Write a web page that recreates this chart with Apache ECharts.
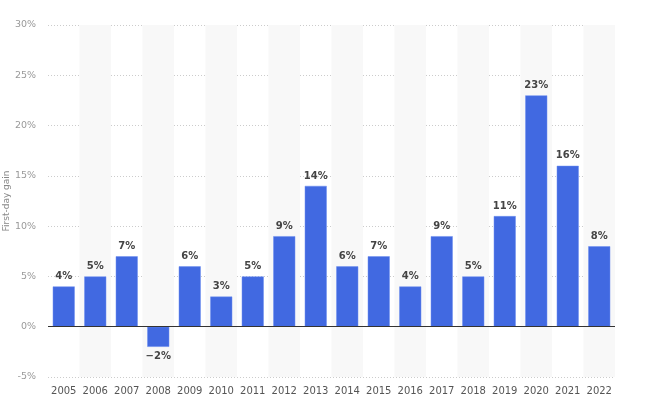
<!DOCTYPE html>
<html><head><meta charset="utf-8">
<script src="https://cdn.jsdelivr.net/npm/echarts@6/dist/echarts.min.js"></script>
<style>html,body{margin:0;padding:0;background:#fff}#c{width:652px;height:403px}</style>
</head><body><div id="c"></div>
<script>
const years = ['2005','2006','2007','2008','2009','2010','2011','2012','2013','2014','2015','2016','2017','2018','2019','2020','2021','2022'];
const gains = [4,5,7,-2,6,3,5,9,14,6,7,4,9,5,11,23,16,8];
const yTicks = {min:-5, max:30, interval:5};

const fmt = v => (v<0 ? '\u2212'+Math.abs(v) : v) + '%';
const barData = gains.map(v => v < 0
  ? {value:v, label:{position:'bottom'}}
  : {value:v});

const chart = echarts.init(document.getElementById('c'));
chart.setOption({
  animation:false,
  grid:{left:48,right:37,top:25,bottom:26,containLabel:false,outerBoundsMode:'none'},
  xAxis:{
    type:'category', data:years,
    axisLine:{show:false}, axisTick:{show:false},
    axisLabel:{color:'#555', fontSize:10, fontFamily:'DejaVu Sans', margin:9, interval:0},
    splitArea:{show:true, interval:0, areaStyle:{color:['rgba(255,255,255,0)','#f8f8f8']}}
  },
  yAxis:{
    type:'value', min:yTicks.min, max:yTicks.max, interval:yTicks.interval,
    name:'First-day gain', nameLocation:'middle', nameGap:37, nameMoveOverlap:false,
    nameTextStyle:{color:'#888', fontSize:9, fontFamily:'DejaVu Sans'},
    axisLine:{show:false}, axisTick:{show:false},
    axisLabel:{color:'#999', fontSize:9.5, fontFamily:'DejaVu Sans', formatter:'{value}%', margin:12},
    splitLine:{lineStyle:{color:'#ccc', type:[1,2], width:1}}
  },
  series:[{
    type:'bar', data:barData, barWidth:22,
    itemStyle:{color:'#4169e1', borderColor:'#6d8ff0', borderWidth:0.5},
    label:{show:true, position:'top', formatter:p=>fmt(p.value),
      color:'#444', fontSize:10, fontWeight:'bold', fontFamily:'DejaVu Sans', distance:5},
    markLine:{silent:true, symbol:'none', label:{show:false},
      lineStyle:{color:'#333', type:'solid', width:1.2}, data:[{yAxis:0}]}
  }]
});
</script></body></html>
